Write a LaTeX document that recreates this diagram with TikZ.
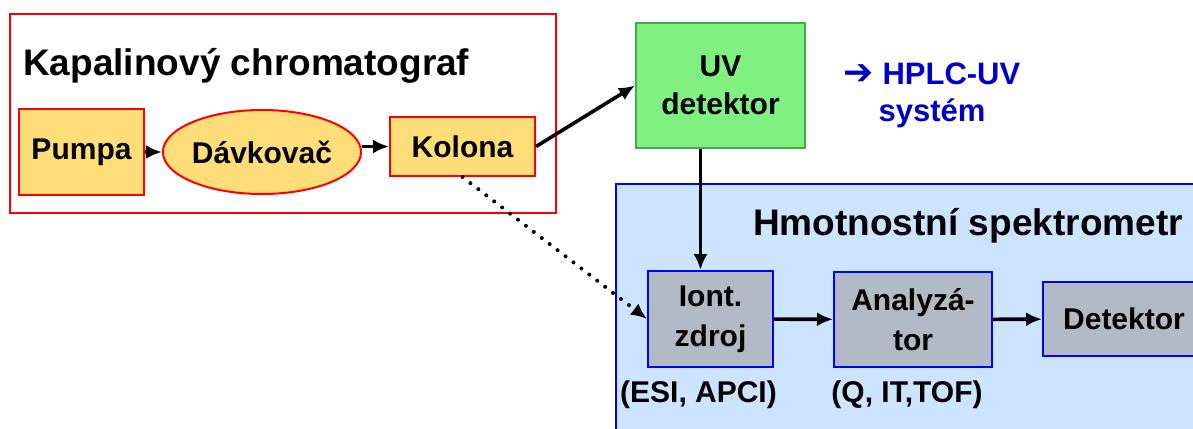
\documentclass[tikz,border=0pt]{standalone}
\usepackage{fontspec}
\setmainfont{Liberation Sans}
\newfontfamily\arrowfont{DejaVu Sans}
\usetikzlibrary{arrows.meta}
\usetikzlibrary{shapes.geometric}

\definecolor{lcred}{RGB}{255,0,0}
\definecolor{lcyellow}{RGB}{255,222,122}
\definecolor{uvgreen}{RGB}{128,240,128}
\definecolor{uvborder}{RGB}{70,170,70}
\definecolor{msblue}{RGB}{0,0,255}
\definecolor{msbg}{RGB}{204,228,255}
\definecolor{msgray}{RGB}{178,186,198}
\definecolor{hplcblue}{RGB}{0,0,205}

\tikzset{
  frame/.style={rectangle, line width=2, inner sep=0},
  unit/.style={rectangle, line width=2, inner sep=0, align=center,
    font=\fontsize{30}{40}\selectfont\bfseries},
  title/.style={inner sep=0, font=\fontsize{37}{44}\selectfont\bfseries},
  note/.style={inner sep=0, font=\fontsize{30}{36}\selectfont\bfseries},
  flow/.style={-{Latex[length=16pt,width=14pt]}, line width=3.6},
  dotflow/.style={flow, line width=4, line cap=round, dash pattern=on 0pt off 10pt}
}

\begin{document}
\begin{tikzpicture}[x=1pt,y=1pt,yscale=-1,xscale=1]
\useasboundingbox (0,0) rectangle (1193,428);
\clip (0,0) rectangle (1193,428);

%Shape: Rectangle (liquid chromatograph)
\node [frame, draw=lcred, fill=white, minimum width=546, minimum height=199] (lcframe) at (283,113.5) {};
\node [title, anchor=base west] (lctitle) at (23,75) {Kapalinový chromatograf};

%Shape: Rectangle
\node [unit, draw=lcred, fill=lcyellow, minimum width=125, minimum height=86] (pumpa) at (81.5,152) {Pumpa};
%Shape: Ellipse
\node [unit, ellipse, draw=lcred, fill=lcyellow, minimum width=176, minimum height=84] (davkovac) at (262,152) {Dávkovač};
%Shape: Rectangle
\node [unit, draw=lcred, fill=lcyellow, minimum width=145, minimum height=59] (kolona) at (462.5,146.5) {Kolona};

%Shape: Rectangle (UV detector)
\node [unit, draw=uvborder, fill=uvgreen, minimum width=169, minimum height=125,
  font=\fontsize{30}{38}\selectfont\bfseries] (uvdet) at (720.5,85.5) {UV\\detektor};
\node [note, align=center, text=hplcblue, font=\fontsize{31}{37}\selectfont\bfseries] (hplc) at (932,95.5) {{\arrowfont\fontsize{36}{37}\selectfont ➔} HPLC-UV\\systém};

%Shape: Rectangle (mass spectrometer)
\node [frame, line width=2.5, draw=msblue, fill=msbg, minimum width=600, minimum height=262] (msframe) at (916,315) {};
\node [title, anchor=base west] (mstitle) at (753,235) {Hmotnostní spektrometr};

%Shape: Rectangle
\node [unit, draw=msblue, fill=msgray, minimum width=125, minimum height=96] (iont) at (710.5,319) {Iont.\\zdroj};
%Shape: Rectangle
\node [unit, draw=msblue, fill=msgray, minimum width=158, minimum height=95] (analyzator) at (913,319.5) {Analyzá-\\tor};
%Shape: Rectangle
\node [unit, draw=msblue, fill=msgray, minimum width=162, minimum height=74] (detektor) at (1124,319) {Detektor};

\node [note, anchor=base] (ionlabel) at (698.5,402) {(ESI, APCI)};
\node [note, anchor=base] (analabel) at (907,402) {(Q, IT,TOF)};

%Straight Lines
\draw [flow] (pumpa) -- (davkovac);
\draw [flow] (davkovac.east |- kolona.west) -- (kolona.west);
\draw [flow] (kolona.east) -- (uvdet.west);
\draw [flow] ([xshift=-10]iont.north |- uvdet.south) -- ([xshift=-10]iont.north);
\draw [dotflow] (kolona.south) -- (iont.west);
\draw [flow] (iont) -- (analyzator);
\draw [flow] (analyzator) -- (detektor);

\end{tikzpicture}
\end{document}
